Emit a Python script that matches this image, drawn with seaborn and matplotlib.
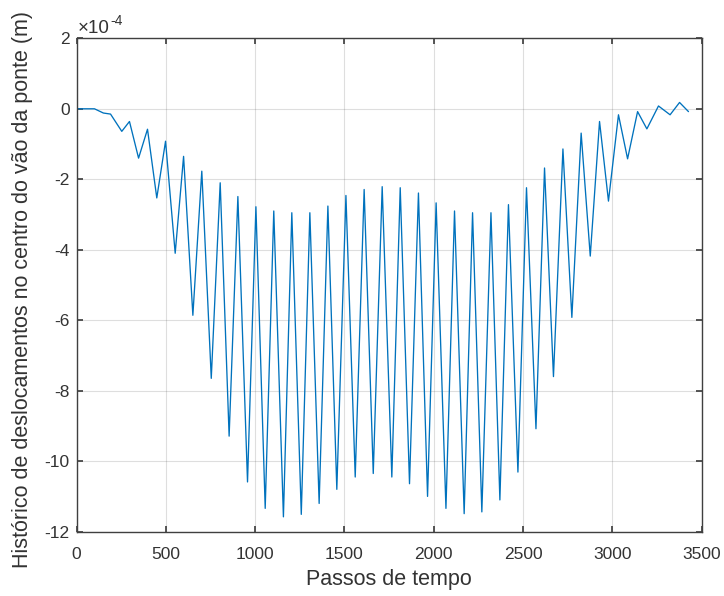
import matplotlib
matplotlib.use("Agg")
import matplotlib.pyplot as plt
import seaborn as sns
import pandas as pd

# Extrema of the displacement history (x in time steps, y in 1e-4 m)
passos = [0, 100, 150, 190, 253, 296, 347, 397, 449, 498, 552, 599, 651, 701, 754, 804,
          854, 903, 957, 1004, 1056, 1104, 1158, 1205, 1258, 1306, 1358, 1407, 1457,
          1508, 1560, 1610, 1661, 1711, 1765, 1812, 1864, 1914, 1965, 2013, 2068, 2116,
          2170, 2217, 2269, 2320, 2370, 2418, 2471, 2519, 2572, 2620, 2670, 2723, 2773,
          2825, 2876, 2928, 2978, 3034, 3085, 3141, 3193, 3258, 3323, 3376, 3426]
desloc_e4 = [0.0, 0.0, -0.12, -0.15, -0.64, -0.36, -1.40, -0.58, -2.53, -0.92, -4.10,
             -1.35, -5.86, -1.77, -7.65, -2.10, -9.29, -2.49, -10.59, -2.78, -11.34,
             -2.90, -11.58, -2.95, -11.51, -2.95, -11.20, -2.76, -10.80, -2.46, -10.45,
             -2.29, -10.35, -2.21, -10.45, -2.24, -10.64, -2.39, -11.00, -2.67, -11.34,
             -2.90, -11.49, -2.95, -11.44, -2.95, -11.10, -2.72, -10.31, -2.24, -9.08,
             -1.68, -7.60, -1.14, -5.92, -0.69, -4.18, -0.36, -2.62, -0.17, -1.42,
             -0.08, -0.57, 0.08, -0.17, 0.18, -0.08]

xticks = [0, 500, 1000, 1500, 2000, 2500, 3000, 3500]
yticks = [2, 0, -2, -4, -6, -8, -10, -12]

sns.set_theme(style="white")
plt.rcParams['font.family'] = ['Liberation Sans', 'DejaVu Sans']
plt.rcParams['axes.unicode_minus'] = False

df = pd.DataFrame({"passo": passos, "desloc": desloc_e4})

fig = plt.figure(figsize=(7.24, 5.96), dpi=100)
ax = fig.add_axes([0.1058, 0.108, 0.8634, 0.8277])
sns.lineplot(data=df, x="passo", y="desloc", ax=ax, color="#0072BD",
             linewidth=0.95, sort=False, estimator=None)

ax.set_xlim(0, 3500)
ax.set_ylim(-12, 2)
ax.set_xticks(xticks)
ax.set_yticks(yticks)
ax.set_xticklabels([str(t) for t in xticks])
ax.set_yticklabels([str(t) for t in yticks])
ax.grid(True, color="#262626", alpha=0.15, linewidth=0.8)
for s in ax.spines.values():
    s.set_color("#404040")
    s.set_linewidth(1.0)
    s.set_visible(True)
ax.tick_params(direction="in", length=4, color="#404040", labelsize=12.5,
               labelcolor="#333333", top=True, right=True, bottom=True, left=True,
               labeltop=False, labelright=False)
ax.tick_params(axis="x", pad=11)
ax.tick_params(axis="y", pad=5)
ax.set_xlabel("Passos de tempo", fontsize=15.5, color="#333333")
ax.set_ylabel("Histórico de deslocamentos no centro do vão da ponte (m)",
              fontsize=15.5, color="#333333")
ax.xaxis.set_label_coords(0.5, -0.0756)
ax.yaxis.set_label_coords(-0.070, 0.49)
ax.annotate("×10", xy=(0, 1), xycoords="axes fraction", xytext=(1, 3.6),
            textcoords="offset points", ha="left", va="baseline",
            fontsize=13.5, color="#333333")
ax.annotate("-4", xy=(0, 1), xycoords="axes fraction", xytext=(24, 9.4),
            textcoords="offset points", ha="left", va="baseline",
            fontsize=10, color="#333333")

fig.savefig("out.png", dpi=100, facecolor="white")
